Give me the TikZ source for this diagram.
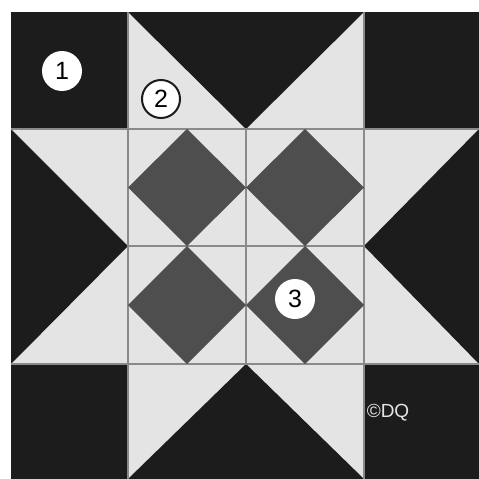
\documentclass[tikz,border=0pt]{standalone}
\usepackage{fontspec}
\setmainfont{Liberation Sans}
\definecolor{qdark}{HTML}{1C1C1C}
\definecolor{qlight}{HTML}{E4E4E4}
\definecolor{qmid}{HTML}{4E4E4E}
\definecolor{qline}{HTML}{8A8A8A}
\tikzset{
  darkpiece/.style={fill=qdark},
  lightpiece/.style={fill=qlight},
  diamondpiece/.style={fill=qmid},
  seam/.style={draw=qline,line width=1.2pt},
  badge/.style={circle,fill=white,minimum size=40pt,inner sep=0pt,font=\fontsize{25}{25}\selectfont},
}
\begin{document}
\begin{tikzpicture}[x=1pt,y=-1pt]
\useasboundingbox (0,0) rectangle (479,479);
\fill[white] (0,0) rectangle (479,479);
% coordinates
\def\xa{11}\def\xb{128}\def\xc{246}\def\xd{364}\def\xe{479}
\def\ya{12}\def\yb{129}\def\yc{246}\def\yd{364}\def\ye{479}
% whole block light
\fill[lightpiece] (\xa,\ya) rectangle (\xe,\ye);
% corners
\fill[darkpiece] (\xa,\ya) rectangle (\xb,\yb);
\fill[darkpiece] (\xd,\ya) rectangle (\xe,\yb);
\fill[darkpiece] (\xa,\yd) rectangle (\xb,\ye);
\fill[darkpiece] (\xd,\yd) rectangle (\xe,\ye);
% star points (dark triangles)
\fill[darkpiece] (\xb,\ya) -- (\xd,\ya) -- (\xc,\yb) -- cycle;
\fill[darkpiece] (\xb,\ye) -- (\xd,\ye) -- (\xc,\yd) -- cycle;
\fill[darkpiece] (\xa,\yb) -- (\xa,\yd) -- (\xb,\yc) -- cycle;
\fill[darkpiece] (\xe,\yb) -- (\xe,\yd) -- (\xd,\yc) -- cycle;
% seams
\draw[seam] (\xb,\ya) -- (\xb,\ye);
\draw[seam] (\xd,\ya) -- (\xd,\ye);
\draw[seam] (\xa,\yb) -- (\xe,\yb);
\draw[seam] (\xa,\yd) -- (\xe,\yd);
\draw[seam] (\xc,\yb) -- (\xc,\yd);
\draw[seam] (\xb,\yc) -- (\xd,\yc);
% diamonds
\fill[diamondpiece] ({(\xb+\xc)/2},\yb) -- (\xc,{(\yb+\yc)/2}) -- ({(\xb+\xc)/2},\yc) -- (\xb,{(\yb+\yc)/2}) -- cycle;
\fill[diamondpiece] ({(\xc+\xd)/2},\yb) -- (\xd,{(\yb+\yc)/2}) -- ({(\xc+\xd)/2},\yc) -- (\xc,{(\yb+\yc)/2}) -- cycle;
\fill[diamondpiece] ({(\xb+\xc)/2},\yc) -- (\xc,{(\yc+\yd)/2}) -- ({(\xb+\xc)/2},\yd) -- (\xb,{(\yc+\yd)/2}) -- cycle;
\fill[diamondpiece] ({(\xc+\xd)/2},\yc) -- (\xd,{(\yc+\yd)/2}) -- ({(\xc+\xd)/2},\yd) -- (\xc,{(\yc+\yd)/2}) -- cycle;
% labels
\node[badge] (one) at (62,71) {1};
\node[badge,draw=qdark,line width=2pt,minimum size=38pt] (two) at (161,99) {2};
\node[badge] (three) at (295,299) {3};
\node[text=qlight,font=\fontsize{19}{19}\selectfont] (copy) at (388,413) {\textcopyright DQ};
\end{tikzpicture}
\end{document}
